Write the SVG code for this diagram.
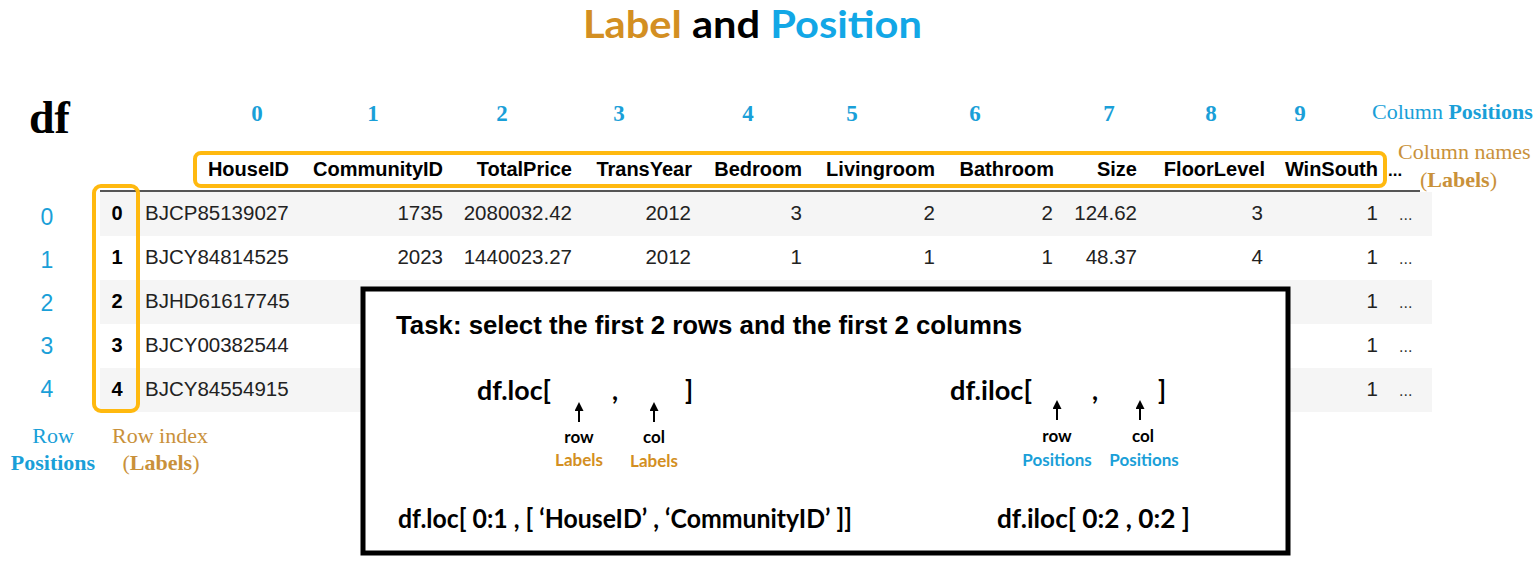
<svg xmlns="http://www.w3.org/2000/svg" width="1538" height="563" viewBox="0 0 1538 563">
<style>
.title{font-family:Lato,"Open Sans",sans-serif;font-weight:bold;font-size:38px}
.ser{font-family:"Liberation Serif",serif;font-size:22px}
.serb{font-family:"Liberation Serif",serif;font-size:22px;font-weight:bold}
.cpos{font-family:"Liberation Serif",serif;font-size:23px;font-weight:bold;fill:#1a9fd8;text-anchor:middle}
.rpos{font-family:"Liberation Sans",sans-serif;font-size:23px;fill:#1a9fd8;text-anchor:middle}
.hdr{font-family:"Liberation Sans",sans-serif;font-size:20px;font-weight:bold;fill:#000;text-anchor:end}
.cell{font-family:"Liberation Sans",sans-serif;font-size:20.5px;fill:#222;text-anchor:end}
.id{font-family:"Liberation Sans",sans-serif;font-size:20.5px;fill:#222}
.idx{font-family:"Liberation Sans",sans-serif;font-size:20px;font-weight:bold;fill:#000;text-anchor:middle}
.ell{font-family:"Liberation Sans",sans-serif;font-size:16px;fill:#333}
.task{font-family:"Liberation Sans",sans-serif;font-size:25px;font-weight:bold;fill:#000}
.code{font-family:Lato,"Open Sans",sans-serif;font-size:26px;font-weight:bold;fill:#000}
.small{font-family:Lato,"Open Sans",sans-serif;font-size:17px;font-weight:bold;text-anchor:middle}
.orange{fill:#d38f22}
.sorange{fill:#c9913a}
.blue{fill:#1a9fd8}
.obox{fill:none;stroke:#ffb90f;stroke-width:4}
.arrow{stroke:#000;stroke-width:2;fill:none}
</style>
<defs>
<marker id="ah" markerWidth="9" markerHeight="9" refX="4" refY="4.5" orient="auto" markerUnits="userSpaceOnUse">
<path d="M0,0 L9,4.5 L0,9 z" fill="#000"/>
</marker>
</defs>
<rect width="1538" height="563" fill="#fff"/>

<g id="title">
<text x="583" y="38" class="title" textLength="339" lengthAdjust="spacingAndGlyphs"><tspan class="orange">Label</tspan><tspan fill="#000"> and </tspan><tspan fill="#12a7e6">Position</tspan></text>
</g>

<g id="df-label">
<text x="29" y="133" font-family="Liberation Serif,serif" font-size="46" font-weight="bold" fill="#000">df</text>
</g>

<g id="column-positions">
<text x="257" y="121" class="cpos">0</text>
<text x="373" y="121" class="cpos">1</text>
<text x="502" y="121" class="cpos">2</text>
<text x="619" y="121" class="cpos">3</text>
<text x="748" y="121" class="cpos">4</text>
<text x="852" y="121" class="cpos">5</text>
<text x="975" y="121" class="cpos">6</text>
<text x="1109" y="121" class="cpos">7</text>
<text x="1211" y="121" class="cpos">8</text>
<text x="1300" y="121" class="cpos">9</text>
<text x="1372" y="119" class="ser blue">Column <tspan font-weight="bold">Positions</tspan></text>
</g>

<g id="column-names-label">
<text x="1398" y="159" class="ser sorange">Column names</text>
<text x="1420" y="187" class="ser sorange">(<tspan font-weight="bold">Labels</tspan>)</text>
</g>

<g id="table">
<rect x="100" y="192" width="1332" height="44" fill="#f5f5f5"/>
<rect x="100" y="280" width="1332" height="44" fill="#f5f5f5"/>
<rect x="100" y="368" width="1332" height="44" fill="#f5f5f5"/>
<line x1="100" y1="191" x2="1420" y2="191" stroke="#555" stroke-width="2"/>
<g id="header">
<text x="289" y="176" class="hdr">HouseID</text>
<text x="443" y="176" class="hdr">CommunityID</text>
<text x="572" y="176" class="hdr">TotalPrice</text>
<text x="692" y="176" class="hdr">TransYear</text>
<text x="802" y="176" class="hdr">Bedroom</text>
<text x="935" y="176" class="hdr">Livingroom</text>
<text x="1054" y="176" class="hdr">Bathroom</text>
<text x="1137" y="176" class="hdr">Size</text>
<text x="1265" y="176" class="hdr">FloorLevel</text>
<text x="1378" y="176" class="hdr">WinSouth</text>
<text x="1388" y="176" font-family="Liberation Sans,sans-serif" font-size="17" font-weight="bold">...</text>
</g>
<g id="row0">
<text x="117" y="220" class="idx">0</text>
<text x="145" y="220" class="id">BJCP85139027</text>
<text x="443" y="220" class="cell">1735</text>
<text x="572" y="220" class="cell">2080032.42</text>
<text x="691" y="220" class="cell">2012</text>
<text x="802" y="220" class="cell">3</text>
<text x="935" y="220" class="cell">2</text>
<text x="1053" y="220" class="cell">2</text>
<text x="1137" y="220" class="cell">124.62</text>
<text x="1263" y="220" class="cell">3</text>
<text x="1378" y="220" class="cell">1</text>
<text x="1399" y="220" class="ell">...</text>
</g>
<g id="row1">
<text x="117" y="264" class="idx">1</text>
<text x="145" y="264" class="id">BJCY84814525</text>
<text x="443" y="264" class="cell">2023</text>
<text x="572" y="264" class="cell">1440023.27</text>
<text x="691" y="264" class="cell">2012</text>
<text x="802" y="264" class="cell">1</text>
<text x="935" y="264" class="cell">1</text>
<text x="1053" y="264" class="cell">1</text>
<text x="1137" y="264" class="cell">48.37</text>
<text x="1263" y="264" class="cell">4</text>
<text x="1378" y="264" class="cell">1</text>
<text x="1399" y="264" class="ell">...</text>
</g>
<g id="row2">
<text x="117" y="308" class="idx">2</text>
<text x="145" y="308" class="id">BJHD61617745</text>
<text x="1378" y="308" class="cell">1</text>
<text x="1399" y="308" class="ell">...</text>
</g>
<g id="row3">
<text x="117" y="352" class="idx">3</text>
<text x="145" y="352" class="id">BJCY00382544</text>
<text x="1378" y="352" class="cell">1</text>
<text x="1399" y="352" class="ell">...</text>
</g>
<g id="row4">
<text x="117" y="396" class="idx">4</text>
<text x="145" y="396" class="id">BJCY84554915</text>
<text x="1378" y="396" class="cell">1</text>
<text x="1399" y="396" class="ell">...</text>
</g>
</g>

<g id="highlight-boxes">
<rect x="195" y="153" width="1190" height="33" rx="6" class="obox"/>
<rect x="94" y="186" width="44" height="225" rx="7" class="obox"/>
</g>

<g id="row-positions">
<text x="47" y="225" class="rpos">0</text>
<text x="47" y="268" class="rpos">1</text>
<text x="47" y="311" class="rpos">2</text>
<text x="47" y="354" class="rpos">3</text>
<text x="47" y="397" class="rpos">4</text>
<text x="53" y="443" class="ser blue" text-anchor="middle">Row</text>
<text x="53" y="470" class="serb blue" text-anchor="middle">Positions</text>
</g>

<g id="row-index-label">
<text x="160" y="443" class="ser sorange" text-anchor="middle">Row index</text>
<text x="161" y="470" class="ser sorange" text-anchor="middle">(<tspan font-weight="bold">Labels</tspan>)</text>
</g>

<g id="task-box">
<rect x="363" y="289" width="925" height="264" fill="#fff" stroke="#000" stroke-width="5"/>
<text x="396" y="334" class="task" textLength="626" lengthAdjust="spacingAndGlyphs">Task: select the first 2 rows and the first 2 columns</text>
<text x="477" y="400" class="code" textLength="74" lengthAdjust="spacingAndGlyphs">df.loc[</text>
<text x="612" y="400" class="code">,</text>
<text x="685" y="400" class="code">]</text>
<text x="579" y="443" class="small" fill="#000">row</text>
<text x="579" y="466" class="small orange">Labels</text>
<text x="654" y="443" class="small" fill="#000">col</text>
<text x="654" y="467" class="small orange">Labels</text>
<text x="950" y="400" class="code" textLength="82" lengthAdjust="spacingAndGlyphs">df.iloc[</text>
<text x="1092" y="400" class="code">,</text>
<text x="1158" y="400" class="code">]</text>
<text x="1057" y="442" class="small" fill="#000">row</text>
<text x="1057" y="466" class="small blue">Positions</text>
<text x="1143" y="442" class="small" fill="#000">col</text>
<text x="1144" y="466" class="small blue">Positions</text>
<text x="398" y="528" class="code" textLength="454" lengthAdjust="spacingAndGlyphs">df.loc[ 0:1 , [ ‘HouseID’ , ‘CommunityID’ ]]</text>
<text x="997" y="528" class="code" textLength="193" lengthAdjust="spacingAndGlyphs">df.iloc[ 0:2 ,  0:2 ]</text>
</g>

<g id="connectors">
<line x1="579" y1="422" x2="579" y2="407" class="arrow" marker-end="url(#ah)"/>
<line x1="654" y1="422" x2="654" y2="407" class="arrow" marker-end="url(#ah)"/>
<line x1="1057" y1="420" x2="1057" y2="405" class="arrow" marker-end="url(#ah)"/>
<line x1="1140" y1="420" x2="1140" y2="405" class="arrow" marker-end="url(#ah)"/>
</g>
</svg>
